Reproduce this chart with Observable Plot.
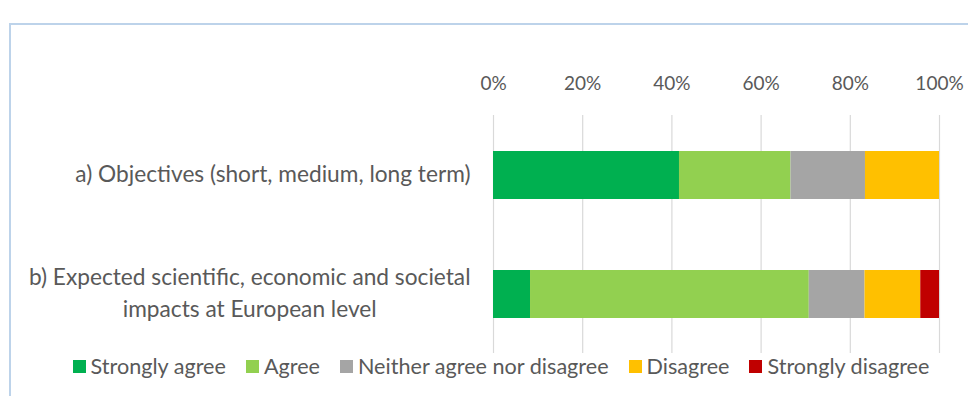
<!DOCTYPE html>
<html>
<head>
<meta charset="utf-8">
<script src="https://cdn.jsdelivr.net/npm/d3@7"></script>
<script src="https://cdn.jsdelivr.net/npm/@observablehq/plot@0.6"></script>
<style>
  html, body { margin: 0; padding: 0; background: #fff; }
  body { width: 968px; height: 396px; overflow: hidden; position: relative; font-family: Lato, sans-serif; }
  #frame { position: absolute; left: 9px; top: 23px; width: 1000px; height: 400px;
           border-left: 2px solid #bdd3ea; border-top: 2px solid #bdd3ea; box-sizing: border-box; }
  #chart { position: absolute; left: 0; top: 0; }
  #legend { position: absolute; left: 10px; width: 982px; top: 354px; height: 24px;
            display: flex; justify-content: center; align-items: center; gap: 20px;
            font-size: 21.6px; color: #595959; }
  .item { display: flex; align-items: center; gap: 5px; white-space: nowrap; }
  .sw { width: 13px; height: 13px; display: inline-block; }
</style>
</head>
<body>
<div id="frame"></div>
<div id="chart"></div>
<div id="legend"></div>
<script>
const categories = [
  "a) Objectives (short, medium, long term)",
  "b) Expected scientific, economic and societal\nimpacts at European level"
];
const responses = ["Strongly agree", "Agree", "Neither agree nor disagree", "Disagree", "Strongly disagree"];
const colors = ["#00b050", "#92d050", "#a5a5a5", "#ffc000", "#c00000"];
// shares (%) per category, in order of responses
const valuesA = [41.7, 25.0, 16.7, 16.6, 0];
const valuesB = [8.3, 62.5, 12.5, 12.5, 4.2];
const tickValues = [0, 20, 40, 60, 80, 100];

const rows = [];
[valuesA, valuesB].forEach((vals, i) => {
  vals.forEach((v, j) => rows.push({category: categories[i], response: responses[j], value: v}));
});

const tickPad = 23;

const chart = Plot.plot({
  width: 968,
  height: 356,
  marginLeft: 493,
  marginRight: 29,
  marginTop: 115,
  marginBottom: 3,
  style: {fontFamily: "Lato, sans-serif", fontSize: "19px", color: "#595959", background: "transparent", overflow: "visible"},
  x: {domain: [0, 100], ticks: tickValues, axis: null},
  y: {domain: categories, paddingInner: 0.6, paddingOuter: 0.3, axis: null},
  color: {domain: responses, range: colors},
  marks: [
    Plot.gridX(tickValues, {stroke: "#d9d9d9", strokeOpacity: 1, strokeWidth: 1.2}),
    Plot.barX(rows, Plot.stackX({x: "value", y: "category", fill: "response", order: responses})),
    Plot.axisX({anchor: "top", ticks: tickValues, tickSize: 0, tickPadding: 26, tickFormat: d => d + "%", fill: "#595959", label: null, fontSize: 19}),
    Plot.text(categories, {
      y: d => d, frameAnchor: "left", text: d => d,
      textAnchor: "middle", lineAnchor: "middle", lineHeight: 1.45, dy: -4,
      fill: "#595959", fontSize: 22.7, className: "cat-labels"
    })
  ]
});
document.getElementById("chart").appendChild(chart);

// center each label's lines within a right-aligned block (Excel style)
chart.querySelectorAll("g.cat-labels text, g[aria-label='text'] text").forEach(t => {
  const w = t.getBBox().width;
  const shift = -tickPad - w / 2;
  const cur = t.getAttribute("transform") || "";
  t.setAttribute("transform", cur + ` translate(${shift},0)`);
});

const legend = document.getElementById("legend");
responses.forEach((r, i) => {
  const it = document.createElement("div");
  it.className = "item";
  const sw = document.createElement("span");
  sw.className = "sw"; sw.style.background = colors[i];
  const lb = document.createElement("span");
  lb.textContent = r;
  it.appendChild(sw); it.appendChild(lb);
  legend.appendChild(it);
});
</script>
</body>
</html>
